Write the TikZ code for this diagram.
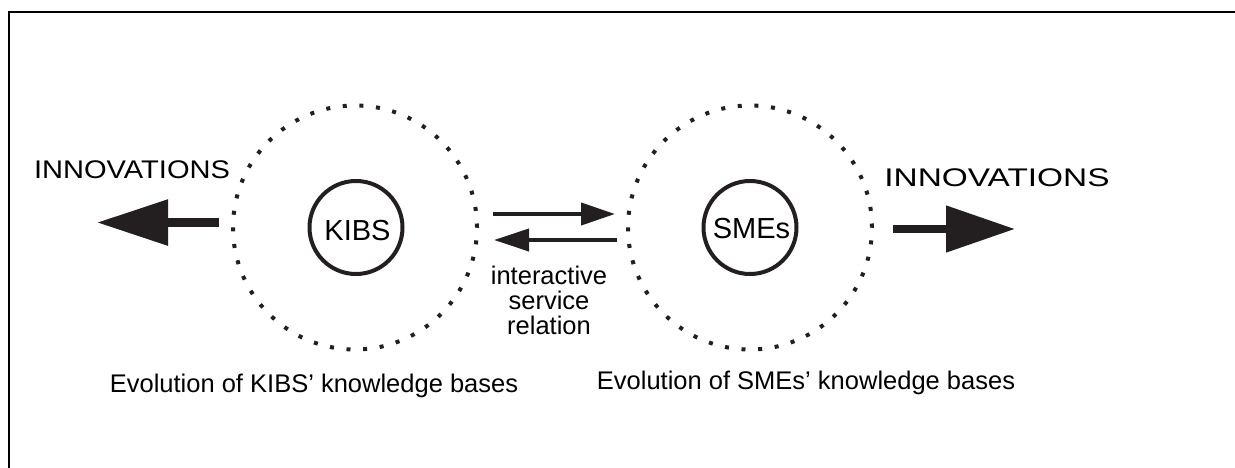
\documentclass[tikz,border=0pt]{standalone}
\usepackage{fontspec}
\setmainfont{Liberation Sans}
\usetikzlibrary{arrows.meta}
\definecolor{ink}{HTML}{231F20}
\begin{document}
\begin{tikzpicture}[x=1pt,y=-1pt,
  every node/.style={inner sep=0pt, text=black},
  txt/.style={font=\fontsize{25.5}{25}\selectfont},
  big/.style={font=\fontsize{29}{32}\selectfont},
  wide/.style={font=\fontsize{25.5}{28}\selectfont},
  dotring/.style={circle, minimum size=244pt, draw=ink, line width=4pt, dash pattern=on 4pt off 12.66pt},
  firm/.style={circle, minimum size=93pt, draw=ink, line width=4pt},
  ]
\useasboundingbox (0,0) rectangle (1235,467);
\begin{scope}
\clip (0,0) rectangle (1235,467);
\draw[line width=2.2pt, black] (9,12) rectangle (1250,490);
\end{scope}
% rings
\node[dotring] (kring) at (355,227.5) {};
\node[dotring] (sring) at (750,227.5) {};
\node[firm] (kibs) at (356,227.5) {};
\node[firm] (smes) at (750,227.5) {};
\node[big, anchor=base] (kibst) at (357.5,240) {KIBS};
\node[big, anchor=base] (smest) at (751.5,238) {SMEs};
% innovations
\node[wide, anchor=base, xscale=1.14] (innl) at (132,178) {INNOVATIONS};
\node[wide, anchor=base, xscale=1.31] (innr) at (997,186) {INNOVATIONS};
% big arrows
\coordinate (la1) at (219,222.5);
\coordinate (la2) at (97,222.5);
\coordinate (ra1) at (893,229);
\coordinate (ra2) at (1015,229);
\draw[draw=ink, line width=9pt, -{Triangle[length=71pt,width=44pt,fill=ink]}] (la1) -- (la2);
\draw[draw=ink, line width=8pt, -{Triangle[length=69pt,width=45pt,fill=ink]}] (ra1) -- (ra2);
% middle arrows
\coordinate (ma1) at (493,214);
\coordinate (ma2) at (615,214);
\coordinate (mb1) at (617,240);
\coordinate (mb2) at (494,240);
\draw[draw=ink, line width=4pt, -{Triangle[length=34pt,width=22pt,fill=ink]}] (ma1) -- (ma2);
\draw[draw=ink, line width=4pt, -{Triangle[length=35pt,width=22pt,fill=ink]}] (mb1) -- (mb2);
% labels
\node[txt, align=center, anchor=base] (rel) at (549,334) {interactive\\service\\relation};
\node[txt, anchor=base] (capk) at (314,392) {Evolution of KIBS’ knowledge bases};
\node[txt, anchor=base] (caps) at (806,389) {Evolution of SMEs’ knowledge bases};
\end{tikzpicture}
\end{document}
